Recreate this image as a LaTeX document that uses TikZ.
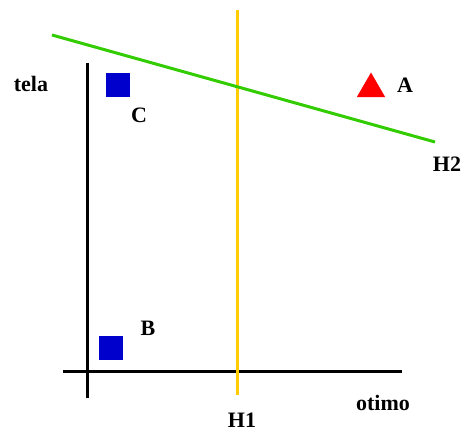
\documentclass[tikz,border=0pt]{standalone}
\usepackage{fontspec}
\setmainfont{Liberation Serif}
\usetikzlibrary{shapes.geometric}
\definecolor{hgreen}{RGB}{51,204,0}
\definecolor{hgold}{RGB}{255,204,0}
\definecolor{ptblue}{RGB}{0,0,204}
\begin{document}
\begin{tikzpicture}[x=1pt, y=-1pt,
    every node/.style={font=\fontsize{22}{24}\selectfont\bfseries},
    axis/.style={line width=3pt, black},
    sqpt/.style={rectangle, fill=ptblue, minimum size=24pt, inner sep=0pt},
    tript/.style={regular polygon, regular polygon sides=3, fill=red, minimum size=33pt, inner sep=0pt}
]
\useasboundingbox (0,0) rectangle (464,433);
\coordinate (ytop) at (87,63);
\coordinate (ybot) at (87,398);
\coordinate (xl) at (63,372);
\coordinate (xr) at (402,372);
\coordinate (h1top) at (237,10);
\coordinate (h1bot) at (237,395);
\coordinate (h2l) at (52,35);
\coordinate (h2r) at (435,142);
\draw[axis] (ytop) -- (ybot);
\draw[axis] (xl) -- (xr);
\draw[line width=3pt, hgold] (h1top) -- (h1bot);
\draw[line width=3pt, hgreen] (h2l) -- (h2r);
\node[sqpt] (c) at (118,85) {};
\node[sqpt] (b) at (111,348) {};
\node[tript] (a) at (371,89) {};
\node (clbl) at (139,115) {C};
\node (blbl) at (148,328) {B};
\node (albl) at (405,85) {A};
\node (h2lbl) at (447,164) {H2};
\node (h1lbl) at (242,420) {H1};
\node (xlbl) at (383,403) {otimo};
\node (ylbl) at (31,84) {tela};
\end{tikzpicture}
\end{document}
